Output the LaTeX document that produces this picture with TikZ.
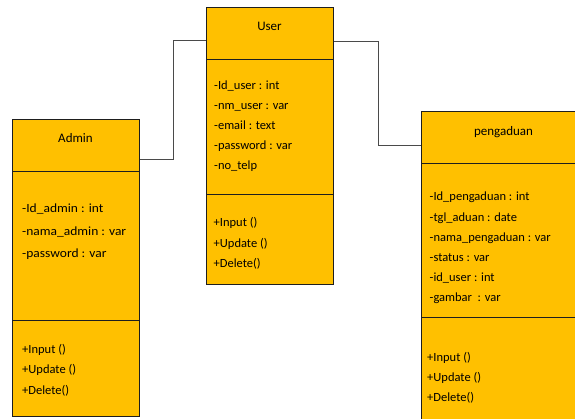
\documentclass[tikz,border=0pt]{standalone}
\usepackage{fontspec}
\usepackage{graphicx}
\setmainfont{Carlito}
\definecolor{classfill}{HTML}{FFC000}
\definecolor{classline}{HTML}{1E1E1E}
\definecolor{linkline}{HTML}{4A4A4A}
\tikzset{
  compart/.style={draw=classline, line width=0.9pt, fill=classfill, inner sep=0pt, anchor=north west},
  member/.style={anchor=base west, inner sep=0pt, font=\fontsize{12.5}{15}\selectfont},
  title/.style={anchor=base, inner sep=0pt, font=\fontsize{13}{15}\selectfont},
  link/.style={draw=linkline, line width=0.9pt},
}
\begin{document}
\begin{tikzpicture}[x=1pt,y=-1pt]
\useasboundingbox (0,0) rectangle (575,419);
\clip (0,0) rectangle (575,419);

% ---- Admin ----
\node[compart, minimum width=127pt, minimum height=52pt] (adminH) at (12,119) {};
\node[compart, minimum width=127pt, minimum height=149pt] (adminA) at (12,171) {};
\node[compart, minimum width=127pt, minimum height=96pt] (adminM) at (12,320) {};
\node[title] (adminT) at (75.5,143) {Admin};
\foreach \t [count=\i] in {-Id\_admin : int, -nama\_admin : var, -password : var}
  \node[member] (adminA\i) at (22,{213+22.5*(\i-1)}) {\scalebox{1.08}[1]{\t}};
\foreach \t [count=\i] in {+Input (), +Update (), +Delete()}
  \node[member] (adminM\i) at (22,{353+20.5*(\i-1)}) {\t};

% ---- User ----
\node[compart, minimum width=127pt, minimum height=52pt] (userH) at (206,7) {};
\node[compart, minimum width=127pt, minimum height=135pt] (userA) at (206,59) {};
\node[compart, minimum width=127pt, minimum height=90pt] (userM) at (206,194) {};
\node[title] (userT) at (269.5,31) {User};
\foreach \t [count=\i] in {-Id\_user : int, -nm\_user : var, -email : text, -password : var, -no\_telp}
  \node[member] (userA\i) at (214,{90+20*(\i-1)}) {\t};
\foreach \t [count=\i] in {+Input (), +Update (), +Delete()}
  \node[member] (userM\i) at (213.5,{227+20.3*(\i-1)}) {\t};

% ---- pengaduan ----
\node[compart, minimum width=165pt, minimum height=52pt] (pengH) at (421,111) {};
\node[compart, minimum width=165pt, minimum height=154pt] (pengA) at (421,163) {};
\node[compart, minimum width=165pt, minimum height=110pt] (pengM) at (421,317) {};
\node[title] (pengT) at (503.5,136) {pengaduan};
\foreach \t [count=\i] in {-Id\_pengaduan : int, -tgl\_aduan : date, -nama\_pengaduan : var, -status : var, -id\_user : int, -gambar~ : var}
  \node[member] (pengA\i) at (429.5,{201+20.1*(\i-1)}) {\t};
\foreach \t [count=\i] in {+Input (), +Update (), +Delete()}
  \node[member] (pengM\i) at (427,{361+20*(\i-1)}) {\t};

% ---- associations ----
\coordinate (j1) at (173.5,159);
\coordinate (j2) at (173.5,40.5);
\draw[link] (adminH.east |- j1) -- (j1) -- (j2) -- (userH.west |- j2);
\coordinate (j3) at (378,41);
\coordinate (j4) at (378,145);
\draw[link] (userH.east |- j3) -- (j3) -- (j4) -- (pengH.west |- j4);
\end{tikzpicture}
\end{document}
